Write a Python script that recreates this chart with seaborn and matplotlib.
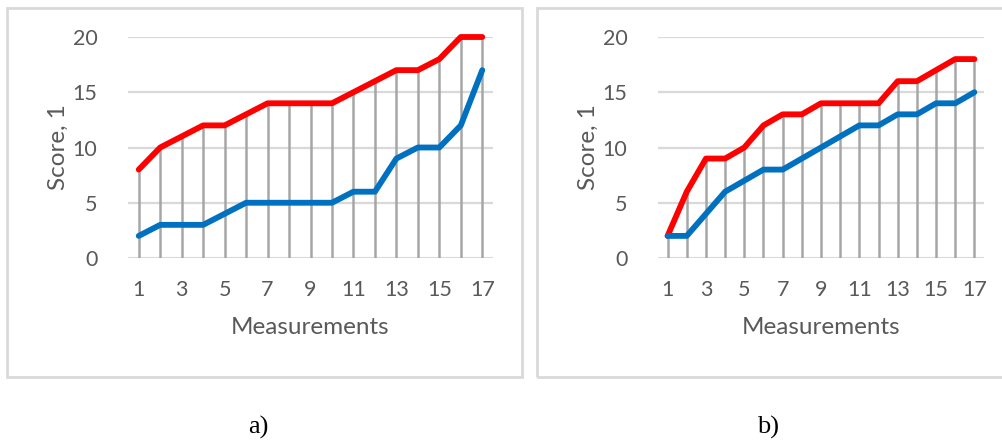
import matplotlib
matplotlib.use("Agg")
import matplotlib.pyplot as plt
from matplotlib.patches import Rectangle
import numpy as np
import pandas as pd
import seaborn as sns

# Measurement index shared by both panels
measurements = list(range(1, 18))

# Panel a) scores
a_upper = [8, 10, 11, 12, 12, 13, 14, 14, 14, 14, 15, 16, 17, 17, 18, 20, 20]
a_lower = [2, 3, 3, 3, 4, 5, 5, 5, 5, 5, 6, 6, 9, 10, 10, 12, 17]

# Panel b) scores
b_upper = [2, 6, 9, 9, 10, 12, 13, 13, 14, 14, 14, 14, 16, 16, 17, 18, 18]
b_lower = [2, 2, 4, 6, 7, 8, 8, 9, 10, 11, 12, 12, 13, 13, 14, 14, 15]

y_ticks = [0, 5, 10, 15, 20]
x_ticks = [1, 3, 5, 7, 9, 11, 13, 15, 17]
captions = ["a)", "b)"]

sns.set_theme(style="white")
plt.rcParams["font.family"] = ["Lato", "DejaVu Sans"]

W, H = 1002, 443
fig = plt.figure(figsize=(W / 100, H / 100), dpi=100)

TEXT = "#595959"
GRID = "#d9d9d9"
DROP = "#a6a6a6"
RED = "#ff0000"
BLUE = "#0070c0"


def px_axes(x0, x1, ytop, ybot):
    return fig.add_axes([x0 / W, (H - ybot) / H, (x1 - x0) / W, (ybot - ytop) / H])


def draw_panel(ax, upper, lower, x0, x1, ytop, ybot):
    df = pd.DataFrame({
        "Measurement": measurements * 2,
        "Score": upper + lower,
        "Series": ["upper"] * len(upper) + ["lower"] * len(lower),
    })
    for y in y_ticks[1:]:
        ax.axhline(y, color=GRID, lw=1.6, zorder=0)
    ax.axhline(0, color=GRID, lw=2.2, zorder=0.5)
    ax.vlines(measurements, 0, upper, color=DROP, lw=1.8, zorder=1)
    sns.lineplot(data=df, x="Measurement", y="Score", hue="Series",
                 palette={"upper": RED, "lower": BLUE}, lw=4.2,
                 legend=False, ax=ax, zorder=3, clip_on=False)
    ax.set_xlim(0.5, 17.5)
    ax.set_ylim(0, 20)
    ax.set_xticks(x_ticks)
    ax.set_yticks(y_ticks)
    ax.tick_params(axis="both", length=0, labelsize=15.5, labelcolor=TEXT)
    ax.tick_params(axis="x", pad=16)
    ax.tick_params(axis="y", pad=22)
    w, h = x1 - x0, ybot - ytop
    ax.set_xlabel("Measurements", fontsize=17.5, color=TEXT, va="center", ha="center")
    ax.set_ylabel("Score, 1", fontsize=17.5, color=TEXT, va="center", ha="center")
    ax.xaxis.set_label_coords(0.5, -(328 - ybot) / h)
    ax.yaxis.set_label_coords(-70 / w, 0.5)
    for s in ax.spines.values():
        s.set_visible(False)
    ax.patch.set_alpha(0)


panels = [(128, 493, a_upper, a_lower), (658, 984, b_upper, b_lower)]
for x0, x1, up, lo in panels:
    ax = px_axes(x0, x1, 37, 258)
    draw_panel(ax, up, lo, x0, x1, 37, 258)

# Chart frames
for fx0, fx1 in [(7, 522), (537, 1010)]:
    fig.patches.append(Rectangle((fx0 / W, (H - 377) / H), (fx1 - fx0) / W, (377 - 8) / H,
                                 transform=fig.transFigure, fill=False,
                                 edgecolor=GRID, lw=2, zorder=0))

for cx, cap in zip([258, 768], captions):
    fig.text(cx / W, (H - 427) / H, cap, ha="center", va="center",
             fontsize=19, family="Liberation Serif", color="black")

fig.savefig("out.png", dpi=100)
